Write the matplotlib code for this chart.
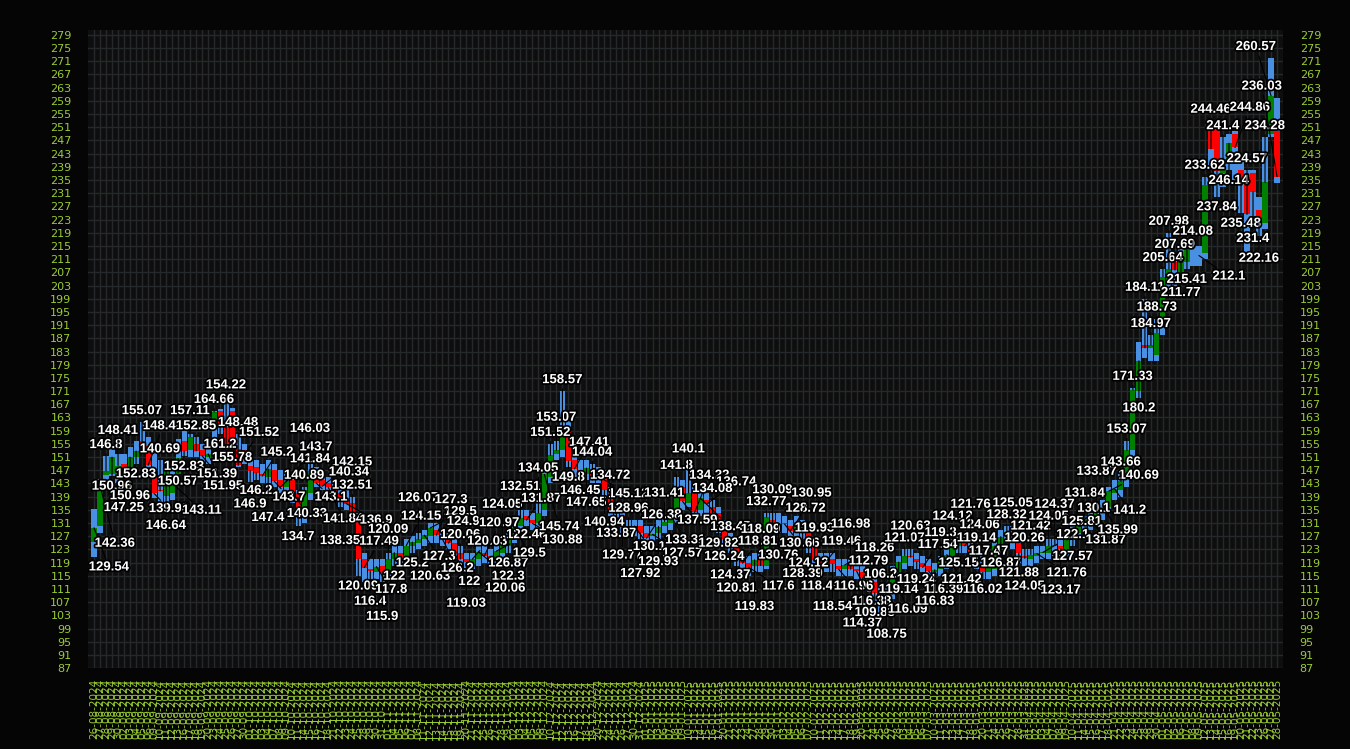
import numpy as np
import pandas as pd
import matplotlib
matplotlib.use("Agg")
import matplotlib.pyplot as plt
import matplotlib.patheffects as pe

# daily candles, values
opens = [125.3, 130.2, 145.5, 146, 145, 149, 148, 151, 156, 154.3,
         145.3, 141, 139.2, 140, 146, 155.8, 153, 155, 153, 151,
         160.4, 164.9, 160, 165, 153.4, 153, 148.3, 148, 146, 145,
         147, 144, 142, 144, 140, 133, 140, 146, 144, 143,
         141, 140, 138, 137, 133, 120, 117, 116, 118, 116,
         120, 122, 120, 124, 125, 126, 127, 129, 127, 126,
         125, 122, 120, 119, 120, 122, 121, 120, 122, 124,
         127, 130, 133, 132, 131, 135, 145, 152, 153, 160,
         150, 147, 146, 147, 145, 145, 140, 135, 133, 130,
         129, 130, 128, 127, 128, 130, 131, 133, 142, 137,
         140, 135, 138, 136, 134, 130, 126, 124, 120, 119,
         118, 120, 118, 132, 130, 131, 130, 129, 131, 128,
         124, 120, 118, 120, 118, 117, 118, 117, 116, 114,
         113, 110, 106, 110, 116, 119, 121, 120, 119, 118,
         116, 117, 119, 121, 124, 125, 124, 121, 119, 116,
         117, 124, 127, 128, 125, 121, 120, 121, 122, 122,
         124, 124, 123, 126, 128, 130, 131, 132, 134, 136,
         140, 141, 144, 153, 171, 185, 184, 182, 190, 205,
         210, 206, 210, 214, 212, 213, 251, 251, 237, 241,
         249, 238, 236, 237, 226, 222, 249, 250]
highs = [135.3, 144.4, 151.3, 154.3, 152, 152, 154, 156, 161.6, 157,
         154, 150, 145, 148, 156.4, 159.5, 158, 157, 155, 155,
         165, 165.5, 169.4, 166, 158, 155, 152, 150, 149, 150,
         149, 147, 147, 146, 141, 142, 149, 148, 146, 145,
         143, 142, 141, 139, 134, 122, 120, 120, 120, 122,
         124, 124, 126, 127, 128, 129, 131, 131, 129, 128,
         127, 124, 122, 122, 124, 124, 123, 124, 126, 129,
         132, 135, 135, 134, 137, 147, 155, 156, 171, 162,
         152, 150, 150, 149, 148, 147, 142, 137, 135, 132,
         132, 132, 130, 130, 132, 133, 135, 145, 144, 150,
         142, 140, 140, 138, 136, 132, 128, 126, 122, 121,
         122, 122, 134, 134, 134, 133, 132, 133, 132, 130,
         126, 122, 122, 122, 120, 120, 120, 119, 118, 116,
         115, 112, 112, 118, 121, 123, 123, 122, 121, 120,
         119, 121, 123, 126, 127, 127, 126, 123, 121, 119,
         126, 129, 130, 130, 127, 123, 123, 124, 124, 126,
         126, 126, 128, 130, 132, 133, 134, 136, 138, 142,
         144, 146, 156, 172, 186, 199, 188, 193, 208, 219,
         212, 214, 217, 216, 215, 236, 253, 252, 248, 249,
         250, 241, 238, 238, 230, 248, 272, 260]
lows = [120.8, 128, 141.3, 145.3, 143, 146, 146, 149, 154.3, 148,
        138.5, 137.5, 137, 138, 146.8, 151.3, 151, 151, 149, 149,
        153.4, 158, 155.8, 154, 148, 149, 143.5, 144, 143, 143,
        142, 140, 140, 137, 130, 131, 138, 142, 141, 139,
        138, 136, 135, 131, 115, 113, 114, 114, 113, 114,
        118, 118, 118, 122, 123, 124, 125, 125, 124, 123,
        120, 118, 117, 117, 118, 119, 118, 118, 120, 122,
        125, 128, 130, 129, 129, 133, 143, 150, 151, 148,
        145, 144, 144, 143, 143, 138, 133, 131, 128, 127,
        127, 126, 125, 125, 126, 128, 129, 131, 135, 136,
        133, 133, 134, 132, 128, 124, 122, 118, 116, 115,
        116, 116, 117, 128, 128, 128, 127, 127, 126, 122,
        117, 115, 116, 116, 115, 115, 115, 114, 111, 110,
        107, 103, 104, 108, 114, 117, 118, 117, 116, 114,
        114, 115, 117, 119, 122, 122, 119, 117, 114, 114,
        115, 122, 125, 123, 119, 118, 118, 119, 120, 120,
        121, 121, 121, 124, 126, 128, 129, 130, 132, 134,
        138, 139, 142, 151, 169, 181, 180, 180, 188, 202,
        203, 204, 208, 209, 209, 211, 238, 230, 233, 238,
        235, 225, 211, 224, 218, 220, 248, 234]
closes = [129.54, 142.36, 146.8, 150.96, 148.41, 147.25, 150.96, 152.83, 155.07, 148.48,
          139.96, 140.69, 146.64, 143.11, 150.57, 152.83, 157.11, 152.85, 151.39, 151.95,
          164.66, 161.2, 154.22, 155.78, 148.48, 151.52, 146.9, 146.2, 145.2, 147.4,
          143.7, 141.84, 143.7, 140.33, 134.7, 140.89, 146.03, 143.1, 142.15, 141.84,
          140.34, 138.35, 136.9, 132.51, 120.09, 117.49, 116.4, 117.8, 115.9, 120.09,
          122, 120.63, 124.15, 125.2, 126.07, 127.3, 129.5, 127.3, 126.2, 124.9,
          122, 120.06, 119.03, 120.03, 122.3, 120.97, 120.06, 122.46, 124.05, 126.87,
          129.5, 132.51, 131.87, 130.88, 134.05, 145.74, 151.52, 153.07, 158.57, 149.8,
          147.41, 146.45, 147.65, 144.04, 145.12, 140.94, 134.72, 133.87, 129.77, 128.96,
          130.1, 127.92, 126.38, 127.57, 129.93, 131.41, 133.31, 141.8, 137.59, 140.1,
          134.22, 138.45, 136.74, 134.08, 129.82, 126.24, 124.37, 120.81, 118.81, 117.6,
          119.83, 118.09, 132.77, 130.09, 130.76, 130.66, 128.72, 130.95, 128.39, 124.12,
          119.93, 118.45, 119.46, 118.54, 116.96, 118.26, 116.98, 116.38, 114.37, 112.79,
          109.88, 106.2, 108.75, 116.09, 119.14, 121.07, 120.63, 119.24, 117.54, 116.39,
          116.83, 119.3, 121.42, 124.12, 125.15, 124.06, 121.76, 119.14, 116.02, 117.47,
          124.05, 126.87, 128.32, 125.05, 121.88, 120.26, 121.42, 121.76, 122.1, 124.05,
          124.37, 123.17, 125.81, 127.57, 130.1, 131.84, 131.87, 133.87, 135.99, 140.69,
          141.2, 143.66, 153.07, 171.33, 180.2, 184.11, 184.97, 188.73, 205.64, 207.98,
          207.69, 211.77, 215.41, 214.08, 212.1, 233.62, 244.46, 237.84, 241.4, 246.14,
          244.86, 235.48, 224.57, 231.4, 222.16, 234.28, 260.57, 236.03]

dates = pd.bdate_range("2024-08-26", periods=len(closes))
date_labels = [d.strftime("%d-%m-%Y") for d in dates]
yticks = np.arange(87, 280, 4)

o = np.array(opens, dtype=float)
h = np.array(highs, dtype=float)
l = np.array(lows, dtype=float)
c = np.array(closes, dtype=float)
x = np.arange(len(c))
up = c >= o
ymin, ymax = 87, 280.5

fig = plt.figure(figsize=(13.5, 7.49), dpi=100, facecolor="#050505")
ax = fig.add_axes([0.0652, 0.108, 0.8852, 0.852])
ax.set_facecolor("#0e0e0e")

ax.bar(x, h - l, bottom=l, width=0.85, color="#4a90e2", zorder=2)
ax.bar(x[up], (c - o)[up], bottom=o[up], width=0.85, color="#008000", zorder=3)
ax.bar(x[~up], (o - c)[~up], bottom=c[~up], width=0.85, color="#ff0000", zorder=3)

# crude label placement: try spots above/below each candle, keep the least crowded
lw_, lh_ = 6.2, 3.6   # label box in (candles, price units)
boxes = np.zeros((0, 4))
cand_boxes = np.column_stack([x - 0.45, x + 0.45, l, h])
spots = []
for i in range(len(c)):
    best, best_score = None, None
    for step in range(7):
        for side in (1, -1):
            for dx in (0.0, -2.5, 2.5, -5.0, 5.0):
                if side > 0:
                    y0 = h[i] + 1.5 + step * lh_
                else:
                    y0 = l[i] - 1.5 - lh_ - step * lh_
                y1 = y0 + lh_
                x0, x1 = i + dx - lw_ / 2, i + dx + lw_ / 2
                if y0 < ymin + 0.5 or y1 > ymax - 0.5 or x0 < -1.5 or x1 > len(c) + 0.5:
                    continue
                score = 0.35 * step + 0.12 * abs(dx)
                for bx in (boxes, cand_boxes):
                    if len(bx):
                        ox = np.clip(np.minimum(x1, bx[:, 1]) - np.maximum(x0, bx[:, 0]), 0, None)
                        oy = np.clip(np.minimum(y1, bx[:, 3]) - np.maximum(y0, bx[:, 2]), 0, None)
                        score += (ox * oy).sum() / (lw_ * lh_) * (3.0 if bx is boxes else 0.6)
                if best_score is None or score < best_score:
                    best_score, best = score, (i + dx, y0, x0, x1, y1)
    cx, y0, x0, x1, y1 = best
    boxes = np.vstack([boxes, [x0, x1, y0, y1]])
    spots.append((cx, y0))

outline = [pe.withStroke(linewidth=2.5, foreground="black")]
for i, (cx, y0) in enumerate(spots):
    ax.annotate(f"{c[i]:g}", xy=(i, c[i]), xytext=(cx, y0),
                textcoords="data", color="white", fontsize=9.5, fontweight="bold",
                family=["Liberation Sans", "DejaVu Sans"], ha="center", va="bottom",
                path_effects=outline, zorder=5, annotation_clip=True,
                arrowprops=dict(arrowstyle="-", color="black", lw=0.8, shrinkA=0, shrinkB=0))

ax.set_xlim(-1, len(c))
ax.set_ylim(ymin, ymax)
ax.set_xticks(x)
ax.set_xticklabels(date_labels, rotation=90, fontsize=7.5, color="yellowgreen")
ax.set_yticks(yticks)
ax.tick_params(axis="y", labelright=True, right=True, colors="yellowgreen",
               labelsize=8, length=0, pad=12)
ax.tick_params(axis="x", length=0, pad=8, colors="yellowgreen")
ax.grid(True, color="#26292c", lw=1)
ax.set_axisbelow(True)
for s in ax.spines.values():
    s.set_visible(False)

fig.savefig("out.png", dpi=100, facecolor=fig.get_facecolor())
